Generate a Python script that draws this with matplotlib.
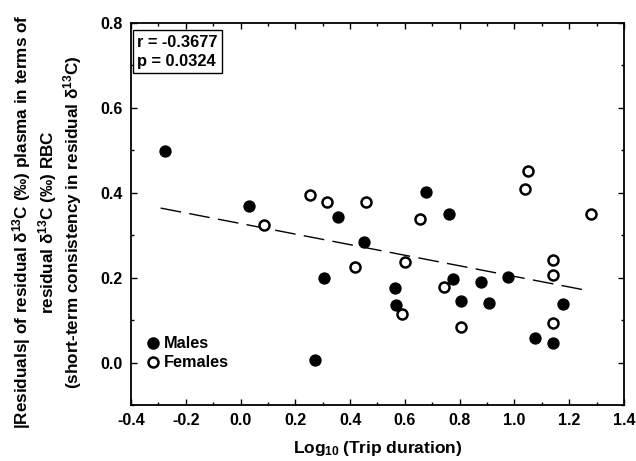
import numpy as np
import matplotlib
matplotlib.use('Agg')
import matplotlib.pyplot as plt
from matplotlib.ticker import MultipleLocator
from matplotlib.lines import Line2D

plt.rcParams['font.family'] = ['Liberation Sans', 'DejaVu Sans']
plt.rcParams['font.weight'] = 'bold'
plt.rcParams['mathtext.fontset'] = 'custom'
plt.rcParams['mathtext.bf'] = 'Liberation Sans:bold'
plt.rcParams['mathtext.rm'] = 'Liberation Sans:bold'
plt.rcParams['mathtext.default'] = 'bf'

# Самцы (закрашенные)
males_x = [-0.275, 0.031, 0.356, 0.677, 0.760, 0.451, 0.304, 0.563, 0.568, 0.775,
           0.804, 0.879, 0.909, 0.976, 1.177, 1.075, 1.142, 0.271]
males_y = [0.499, 0.370, 0.344, 0.403, 0.350, 0.284, 0.200, 0.175, 0.135, 0.197,
           0.146, 0.189, 0.140, 0.202, 0.137, 0.058, 0.047, 0.005]

# Самки (пустые)
females_x = [0.084, 0.254, 0.317, 0.457, 0.655, 1.050, 1.040, 1.281,
             0.417, 0.601, 0.742, 0.590, 0.804, 1.142, 1.142, 1.142]
females_y = [0.324, 0.395, 0.378, 0.378, 0.339, 0.451, 0.409, 0.350,
             0.225, 0.236, 0.179, 0.114, 0.083, 0.242, 0.207, 0.094]

# Линия регрессии (концы)
fit_x = [-0.292, 1.257]
fit_y = [0.364, 0.171]

fig = plt.figure(figsize=(6.36, 4.61), dpi=100)
ax = fig.add_axes([0.206, 0.1215, 0.775, 0.8285])

ax.plot(fit_x, fit_y, color='black', linewidth=1, dashes=(15, 6), zorder=1)
ax.scatter(males_x, males_y, s=62, c='black', edgecolors='black', linewidths=1, zorder=3)
ax.scatter(females_x, females_y, s=52, c='white', edgecolors='black', linewidths=1.8, zorder=3)

ax.set_xlim(-0.4, 1.4)
ax.set_ylim(-0.1, 0.8)
ax.xaxis.set_major_locator(MultipleLocator(0.2))
ax.xaxis.set_minor_locator(MultipleLocator(0.1))
ax.yaxis.set_major_locator(MultipleLocator(0.2))
ax.yaxis.set_minor_locator(MultipleLocator(0.1))
ax.xaxis.set_major_formatter(plt.FuncFormatter(lambda v, p: f'{v:.1f}'))
ax.yaxis.set_major_formatter(plt.FuncFormatter(lambda v, p: f'{v:.1f}'))
ax.tick_params(which='both', direction='in', top=True, right=True, width=1)
ax.tick_params(which='major', length=4, labelsize=11.5, pad=6)
ax.tick_params(which='minor', length=2.5)
for lab in ax.get_xticklabels() + ax.get_yticklabels():
    lab.set_fontweight('bold')
for sp in ax.spines.values():
    sp.set_linewidth(1.3)

ax.set_xlabel('Log$_{10}$\u2009(Trip duration)', fontsize=12.5, fontweight='bold', labelpad=8)
ax.set_ylabel('|Residuals| of residual δ$^{13}$C (‰) plasma in terms of\n'
              'residual δ$^{13}$C (‰) RBC\n'
              '(short-term consistency in residual δ$^{13}$C)',
              fontsize=12.3, fontweight='bold', linespacing=1.15)
ax.yaxis.set_label_coords(-0.095, 0.48)

ax.text(0.012, 0.97, 'r = -0.3677\np = 0.0324', transform=ax.transAxes,
        fontsize=11.8, fontweight='bold', va='top', ha='left', linespacing=1.35,
        bbox=dict(boxstyle='square,pad=0.25', facecolor='white', edgecolor='black', linewidth=1))

handles = [
    Line2D([], [], marker='o', linestyle='none', markersize=8, markerfacecolor='black',
           markeredgecolor='black', label='Males'),
    Line2D([], [], marker='o', linestyle='none', markersize=7.2, markerfacecolor='white',
           markeredgecolor='black', markeredgewidth=1.8, label='Females'),
]
ax.legend(handles=handles, loc='lower left', bbox_to_anchor=(0.005, 0.065), frameon=False,
          prop={'size': 11.7, 'weight': 'bold'}, handletextpad=0.1, handlelength=1.2,
          labelspacing=0.25, borderaxespad=0.2)

fig.savefig('out.png', dpi=100)
